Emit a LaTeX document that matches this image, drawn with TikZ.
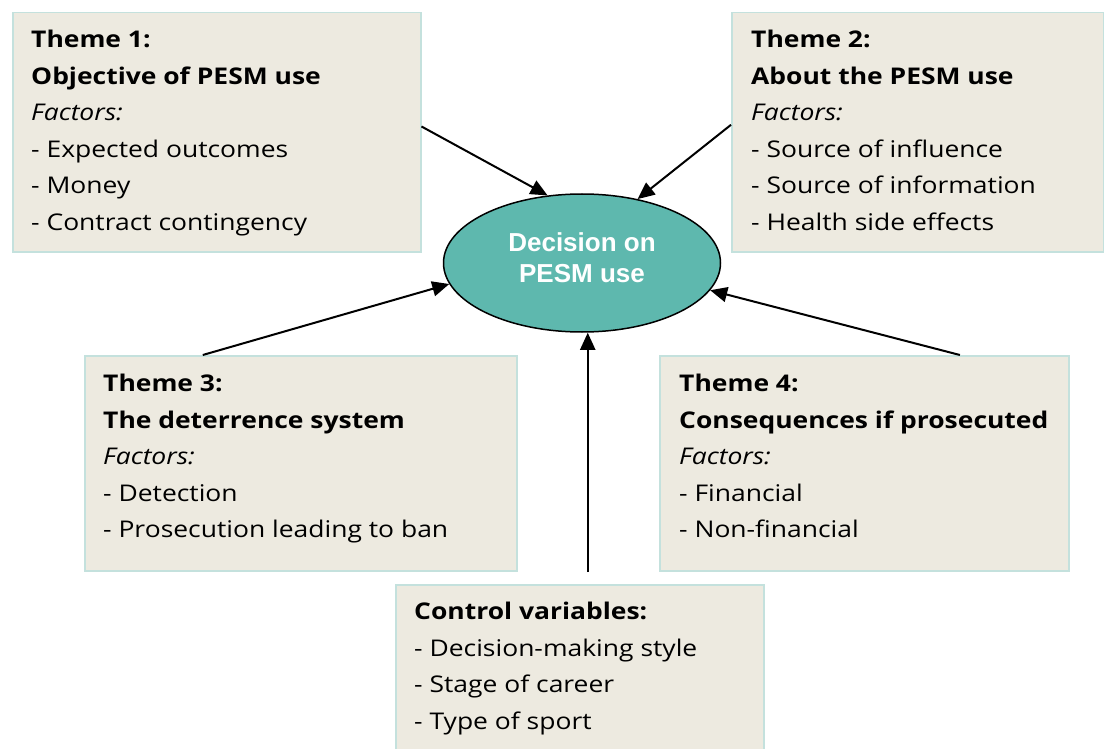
\documentclass[tikz,border=0pt]{standalone}
\usepackage{fontspec}
\setmainfont{Open Sans}[FakeStretch=1.15]
\newfontfamily\arialfont{Liberation Sans}
\usetikzlibrary{arrows.meta,shapes.geometric,calc}
\definecolor{boxfill}{RGB}{237,234,224}
\definecolor{boxline}{RGB}{196,225,221}
\definecolor{ellfill}{RGB}{94,184,174}
\tikzset{
  box/.style={draw=boxline, fill=boxfill, line width=1.5pt, anchor=north west, inner sep=0pt, rectangle},
  boxtext/.style={anchor=north west, inner sep=0pt, align=left, font=\fontsize{23}{36.5}\selectfont},
  arr/.style={line width=2pt, -{Triangle[length=17pt,width=15pt]}},
}
\begin{document}
\begin{tikzpicture}[x=1pt,y=-1pt]
\clip (0,0) rectangle (1104,749);
\fill[white] (0,0) rectangle (1104,749);
% boxes
\node[box, minimum width=408pt, minimum height=239pt] (b1) at (12,12) {};
\node[box, minimum width=372pt, minimum height=239pt] (b2) at (731,12) {};
\node[box, minimum width=432pt, minimum height=215pt] (b3) at (84,355) {};
\node[box, minimum width=409pt, minimum height=215pt] (b4) at (659,355) {};
\node[box, minimum width=368pt, minimum height=190pt] (b5) at (395,584) {};
% texts
\node[boxtext] (t1) at (31,30) {\textbf{Theme 1:}\\\textbf{Objective of PESM use}\\\textit{Factors:}\\- Expected outcomes\\- Money\\- Contract contingency};
\node[boxtext] (t2) at (751,30) {\textbf{Theme 2:}\\\textbf{About the PESM use}\\\textit{Factors:}\\- Source of influence\\- Source of information\\- Health side effects};
\node[boxtext] (t3) at (103,374) {\textbf{Theme 3:}\\\textbf{The deterrence system}\\\textit{Factors:}\\- Detection\\- Prosecution leading to ban};
\node[boxtext] (t4) at (679,374) {\textbf{Theme 4:}\\\textbf{Consequences if prosecuted}\\\textit{Factors:}\\- Financial\\- Non-financial};
\node[boxtext] (t5) at (414,602) {\textbf{Control variables:}\\- Decision-making style\\- Stage of career\\- Type of sport};
% ellipse
\node[ellipse, draw=black, line width=1.5pt, fill=ellfill, minimum width=277pt, minimum height=138pt, inner sep=0pt] (e) at (582,263) {};
\node[text=white, align=center, inner sep=0pt, font=\arialfont\bfseries\fontsize{26}{31}\selectfont] (et) at ($(e.center)+(0,-5)$) {Decision on\\PESM use};
% arrows
\coordinate (s1) at ($(b1.north east)!0.476!(b1.south east)$);
\coordinate (s2) at ($(b2.north west)!0.469!(b2.south west)$);
\coordinate (s3) at ($(b3.north west)!0.274!(b3.north east)$);
\coordinate (s4) at ($(b4.north west)!0.733!(b4.north east)$);
\coordinate (s5) at ($(b5.north)+(8,-12)$);
\draw[arr] (s1) -- (e.117.6);
\draw[arr] (s2) -- (e.49.4);
\draw[arr] (s3) -- (e.189.3);
\draw[arr] (s4) -- (e.348.8);
\draw[arr] (s5) -- (s5 |- e.south);
\end{tikzpicture}
\end{document}
